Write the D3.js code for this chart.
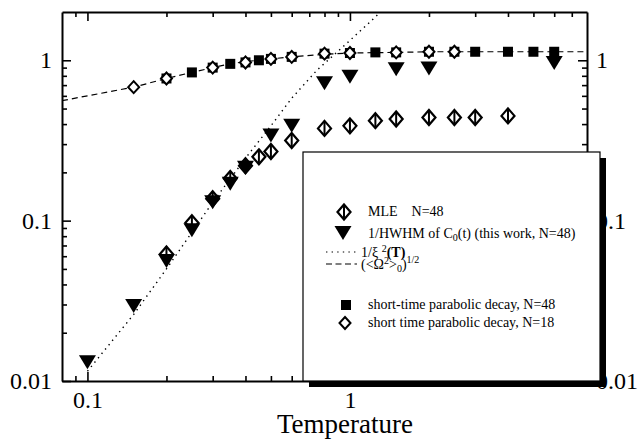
<!DOCTYPE html>
<html>
<head>
<meta charset="utf-8">
<script src="https://cdn.jsdelivr.net/npm/d3@7"></script>
<style>
  body { margin: 0; background: #fff; }
  svg { display: block; }
  text { font-family: "Liberation Serif", "Times New Roman", serif; fill: #000; }
</style>
</head>
<body>
<div id="chart"></div>
<script>
// MLE, N=48
const tMle = [0.2, 0.25, 0.3, 0.35, 0.4, 0.45, 0.5, 0.6, 0.8, 1.0, 1.25, 1.5, 2.0, 2.5, 3.0, 4.0];
const mle = [0.062, 0.097, 0.137, 0.183, 0.22, 0.25, 0.27, 0.316, 0.376, 0.39, 0.42, 0.43, 0.44, 0.44, 0.44, 0.45];

// 1/HWHM of C0(t)
const tHwhm = [0.1, 0.15, 0.2, 0.25, 0.3, 0.35, 0.4, 0.5, 0.6, 0.8, 1.0, 1.5, 2.0, 6.0];
const hwhm = [0.0131, 0.0294, 0.056, 0.087, 0.13, 0.17, 0.214, 0.34, 0.39, 0.72, 0.79, 0.88, 0.89, 0.96];

// short-time parabolic decay, N=48 (filled squares)
const tSq48 = [0.2, 0.25, 0.3, 0.35, 0.4, 0.45, 0.5, 0.6, 0.8, 1.0, 1.25, 1.5, 2.0, 2.5, 3.0, 4.0, 5.0, 6.0];
const sq48 = [0.77, 0.84, 0.90, 0.95, 0.97, 1.0, 1.02, 1.05, 1.10, 1.11, 1.12, 1.12, 1.13, 1.13, 1.13, 1.13, 1.13, 1.13];

// short time parabolic decay, N=18 (open diamonds)
const tDia18 = [0.15, 0.2, 0.3, 0.4, 0.5, 0.6, 0.8, 1.0, 1.5, 2.0, 2.5];
const dia18 = [0.68, 0.77, 0.90, 0.97, 1.02, 1.05, 1.10, 1.11, 1.12, 1.13, 1.13];

// 1/xi^2(T), dotted
const tXi = [0.1, 0.15, 0.2, 0.3, 0.4, 0.5, 0.6, 0.75, 1.0, 1.2, 1.35];
const xi = [0.0115, 0.026, 0.05, 0.13, 0.245, 0.39, 0.58, 0.87, 1.33, 1.75, 2.1];

// (<Omega^2>_0)^1/2, dashed
const tOmega = [0.08, 0.1, 0.15, 0.2, 0.25, 0.3, 0.35, 0.4, 0.5, 0.6, 0.8, 1.0, 1.5, 2.0, 3.0, 8.0];
const omega = [0.56, 0.60, 0.68, 0.77, 0.84, 0.90, 0.95, 0.98, 1.02, 1.05, 1.09, 1.11, 1.12, 1.13, 1.13, 1.13];

// axis ticks
const xTicks = [0.09, 0.1, 0.2, 0.3, 0.4, 0.5, 0.6, 0.7, 0.8, 0.9, 1, 2, 3, 4, 5, 6, 7];
const xLabels = [0.1, 1];
const yTicks = [0.01, 0.02, 0.03, 0.04, 0.05, 0.06, 0.07, 0.08, 0.09, 0.1, 0.2, 0.3, 0.4, 0.5, 0.6, 0.7, 0.8, 0.9, 1];
const yLabels = [0.01, 0.1, 1];

const width = 638, height = 441;
const margin = { top: 12, right: 51, bottom: 60, left: 62 };
const innerWidth = width - margin.left - margin.right;
const innerHeight = height - margin.top - margin.bottom;

const svg = d3.select('#chart').append('svg')
    .attr('width', width)
    .attr('height', height);

const plot = svg.append('g')
    .attr('transform', `translate(${margin.left},${margin.top})`);

const x = d3.scaleLog().domain([0.08, 8]).range([0, innerWidth]);
const y = d3.scaleLog().domain([0.01, 2]).range([innerHeight, 0]);

svg.append('defs').append('clipPath').attr('id', 'clip')
  .append('rect').attr('width', innerWidth).attr('height', innerHeight);

// axes: ticks point inward, minor ticks shorter
function styleAxis(g, majors, sign, horiz, showText) {
  g.select('.domain').attr('stroke-width', 2);
  g.selectAll('.tick line')
    .attr('stroke-width', 1.6)
    .each(function(d) {
      const len = majors.includes(d) ? 9 : 5;
      d3.select(this).attr(horiz ? 'y2' : 'x2', sign * len);
    });
  g.selectAll('.tick text')
    .filter(d => !(showText && majors.includes(d)))
    .remove();
  g.selectAll('.tick text')
    .style('font-size', '24px')
    .text(d => String(d));
}

plot.append('g')
  .attr('transform', `translate(0,${innerHeight})`)
  .call(d3.axisBottom(x).tickValues(xTicks).tickSizeOuter(0).tickSizeInner(-9).tickPadding(10))
  .call(g => styleAxis(g, xLabels, -1, true, true));

plot.append('g')
  .call(d3.axisTop(x).tickValues(xTicks).tickSizeOuter(0).tickSizeInner(-9))
  .call(g => styleAxis(g, xLabels, 1, true, false));

plot.append('g')
  .call(d3.axisLeft(y).tickValues(yTicks).tickSizeOuter(0).tickSizeInner(-9).tickPadding(10))
  .call(g => styleAxis(g, yLabels, 1, false, true));

plot.append('g')
  .attr('transform', `translate(${innerWidth},0)`)
  .call(d3.axisRight(y).tickValues(yTicks).tickSizeOuter(0).tickSizeInner(-9).tickPadding(9))
  .call(g => styleAxis(g, yLabels, -1, false, true));

// axis title
svg.append('text')
  .attr('x', 345)
  .attr('y', 433)
  .attr('text-anchor', 'middle')
  .style('font-size', '27px')
  .text('Temperature');

// lines
const line = (xs, ys) => d3.line()
  .x((d, i) => x(xs[i]))
  .y((d, i) => y(ys[i]))(ys);

const lines = plot.append('g').attr('clip-path', 'url(#clip)');
lines.append('path')
  .attr('d', line(tOmega, omega))
  .attr('fill', 'none')
  .attr('stroke', '#000')
  .attr('stroke-width', 1.2)
  .attr('stroke-dasharray', '6,4');
lines.append('path')
  .attr('d', line(tXi, xi))
  .attr('fill', 'none')
  .attr('stroke', '#000')
  .attr('stroke-width', 1.4)
  .attr('stroke-dasharray', '1.4,4.2');

// marker shapes
const triPath = 'M-8.5,-7L8.5,-7L0,7Z';
const dia = (w, h) => `M0,${-h}L${w},0L0,${h}L${-w},0Z`;

function drawSquare(g, cx, cy) {
  g.append('rect').attr('x', cx - 5).attr('y', cy - 5)
    .attr('width', 10).attr('height', 10).attr('fill', '#000');
}
function drawOpenDiamond(g, cx, cy) {
  g.append('path').attr('d', dia(5.5, 6)).attr('transform', `translate(${cx},${cy})`)
    .attr('fill', '#fff').attr('stroke', '#000').attr('stroke-width', 2);
}
function drawMle(g, cx, cy) {
  const m = g.append('g').attr('transform', `translate(${cx},${cy})`);
  m.append('path').attr('d', dia(6.5, 7.5)).attr('fill', '#fff')
    .attr('stroke', '#000').attr('stroke-width', 2.2);
  m.append('line').attr('y1', -7.5).attr('y2', 7.5)
    .attr('stroke', '#000').attr('stroke-width', 2);
}
function drawTri(g, cx, cy) {
  g.append('path').attr('d', triPath).attr('transform', `translate(${cx},${cy})`)
    .attr('fill', '#000');
}

const marks = plot.append('g');
tSq48.forEach((t, i) => drawSquare(marks, x(t), y(sq48[i])));
tDia18.forEach((t, i) => drawOpenDiamond(marks, x(t), y(dia18[i])));
tMle.forEach((t, i) => drawMle(marks, x(t), y(mle[i])));
tHwhm.forEach((t, i) => drawTri(marks, x(t), y(hwhm[i])));

// legend box with drop shadow
const legend = svg.append('g').attr('class', 'legend');
legend.append('rect')
  .attr('x', 309).attr('y', 158).attr('width', 297).attr('height', 229)
  .attr('fill', '#000');
legend.append('rect')
  .attr('x', 303).attr('y', 152).attr('width', 297).attr('height', 229)
  .attr('fill', '#fff').attr('stroke', '#000').attr('stroke-width', 1.2);

const tx = 368;
drawMle(legend, 344, 212);
drawTri(legend, 343, 233);
legend.append('line').attr('x1', 326).attr('x2', 356).attr('y1', 252).attr('y2', 252)
  .attr('stroke', '#000').attr('stroke-width', 1.2).attr('stroke-dasharray', '1.4,4.2');
legend.append('line').attr('x1', 326).attr('x2', 357).attr('y1', 264).attr('y2', 264)
  .attr('stroke', '#000').attr('stroke-width', 1.2).attr('stroke-dasharray', '6,3.5');
drawSquare(legend, 346, 305);
drawOpenDiamond(legend, 345, 323);

const lt = (xx, yy) => legend.append('text').attr('x', xx).attr('y', yy)
  .style('font-size', '14px').style('white-space', 'pre');

lt(tx, 216).text('MLE    N=48');

const t2 = lt(tx, 238);
t2.append('tspan').text('1/HWHM of C');
t2.append('tspan').attr('dy', 3).style('font-size', '10px').text('0');
t2.append('tspan').attr('dy', -3).text('(t) (this work, N=48)');

const t3 = lt(361, 257);
t3.append('tspan').text('1/ξ ');
t3.append('tspan').attr('dy', -5).style('font-size', '10px').text('2');
t3.append('tspan').attr('dy', 5).style('font-weight', 'bold').text('(T)');

const t4 = lt(361, 269);
t4.append('tspan').text('(<Ω');
t4.append('tspan').attr('dy', -5).style('font-size', '10px').text('2');
t4.append('tspan').attr('dy', 5).text('>');
t4.append('tspan').attr('dy', 3).style('font-size', '10px').text('0');
t4.append('tspan').attr('dy', -3).text(')');
t4.append('tspan').attr('dy', -6).style('font-size', '10px').text('1/2');

lt(tx, 309).text('short-time parabolic decay, N=48');
lt(tx, 327).text('short time parabolic decay, N=18');
</script>
</body>
</html>
